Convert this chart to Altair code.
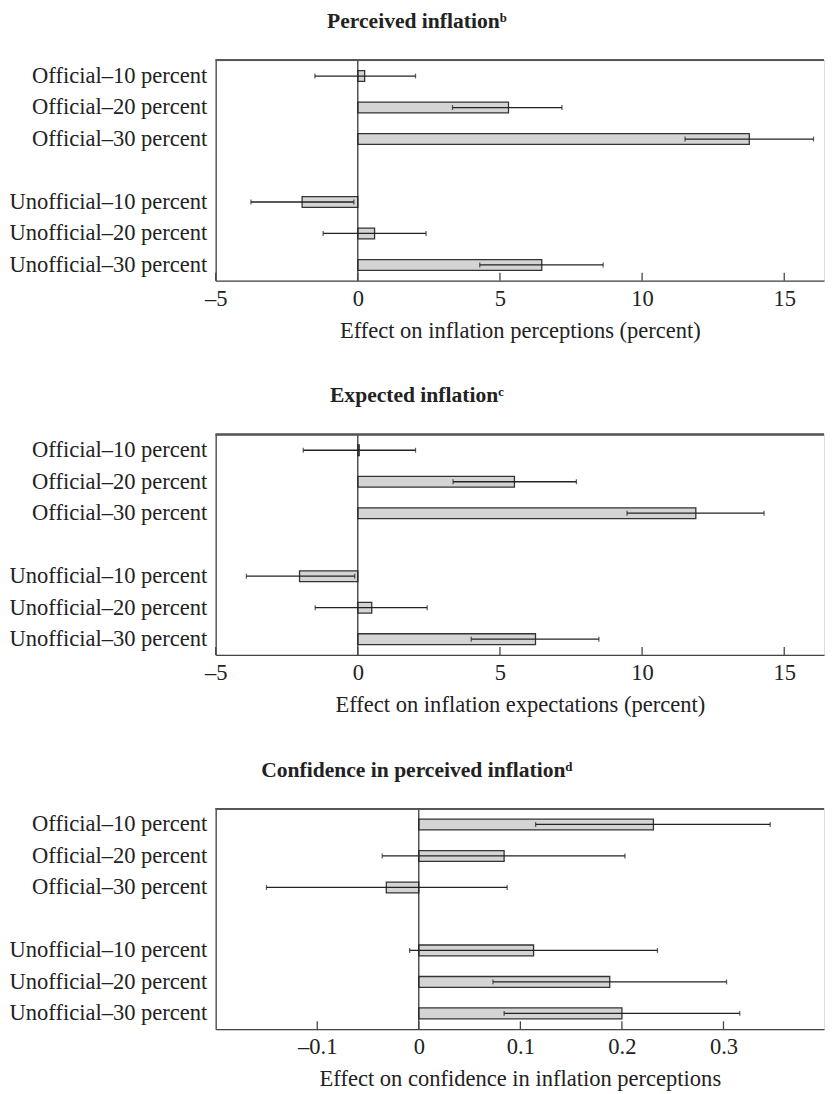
import altair as alt
import pandas as pd

categories = [
    "Official–10 percent", "Official–20 percent", "Official–30 percent",
    "Unofficial–10 percent", "Unofficial–20 percent", "Unofficial–30 percent",
]
gap_label = " "

perceived = [0.24, 5.30, 13.77, -1.96, 0.59, 6.47]
perceived_lo = [-1.51, 3.33, 11.51, -3.76, -1.22, 4.29]
perceived_hi = [2.03, 7.18, 16.03, -0.14, 2.40, 8.63]

expected = [0.05, 5.51, 11.89, -2.05, 0.49, 6.25]
expected_lo = [-1.92, 3.35, 9.47, -3.92, -1.50, 3.99]
expected_hi = [2.03, 7.69, 14.29, -0.11, 2.44, 8.48]

confidence = [0.231, 0.084, -0.032, 0.113, 0.188, 0.200]
confidence_lo = [0.115, -0.036, -0.150, -0.009, 0.073, 0.084]
confidence_hi = [0.346, 0.203, 0.087, 0.235, 0.303, 0.316]

titles = ["Perceived inflationᵇ", "Expected inflationᶜ", "Confidence in perceived inflationᵈ"]
x_titles = [
    "Effect on inflation perceptions (percent)",
    "Effect on inflation expectations (percent)",
    "Effect on confidence in inflation perceptions",
]
ticks_pct = [-5, 0, 5, 10, 15]
ticks_conf = [-0.1, 0, 0.1, 0.2, 0.3]
domain_pct = [-5, 16.4]
domain_conf = [-0.2, 0.399]

W = 621
H = 225
FONT = "Liberation Serif"
order = categories[:3] + [gap_label] + categories[3:]


def panel(title, vals, lo, hi, domain, ticks, xtitle, fmt):
    df = pd.DataFrame({"cat": categories, "val": vals, "lo": lo, "hi": hi})
    tdf = pd.DataFrame({"t": ticks})
    xscale = alt.Scale(domain=domain, nice=False, zero=False)
    yscale = alt.Scale(domain=order, paddingInner=0.655, paddingOuter=0.3275)
    xaxis = alt.Axis(
        values=ticks, ticks=False, grid=False, domain=True, format=fmt,
        labelFlush=False, labelOverlap=False,
        domainColor="#444", domainWidth=1.3,
        labelExpr="replace(replace(datum.label, '\u2212', '–'), '-', '–')",
        labelFont=FONT, labelFontSize=23, labelColor="#222", labelPadding=7,
        title=xtitle, titleFont=FONT, titleFontSize=23, titleFontWeight="normal",
        titleColor="#222", titlePadding=10,
    )
    yaxis = alt.Axis(
        title=None, ticks=False, grid=False, domain=True,
        domainColor="#444", domainWidth=1.3, labelLimit=400,
        labelFont=FONT, labelFontSize=23, labelColor="#222", labelPadding=9,
        minExtent=204, maxExtent=204,
    )
    base = alt.Chart(df)
    bars = base.mark_bar(fill="#d4d4d4", stroke="#333", strokeWidth=1.3).encode(
        x=alt.X("val:Q", scale=xscale, axis=xaxis),
        x2=alt.datum(0),
        y=alt.Y("cat:N", scale=yscale, axis=yaxis, sort=order),
    )
    err = base.mark_rule(color="#222", strokeWidth=1.3).encode(
        x="lo:Q", x2="hi:Q", y=alt.Y("cat:N", sort=order)
    )
    cap_lo = base.mark_tick(color="#222", size=5, thickness=1.3).encode(
        x="lo:Q", y=alt.Y("cat:N", sort=order)
    )
    cap_hi = base.mark_tick(color="#222", size=5, thickness=1.3).encode(
        x="hi:Q", y=alt.Y("cat:N", sort=order)
    )
    zero = alt.Chart(pd.DataFrame({"z": [0]})).mark_rule(color="#222", strokeWidth=1.2).encode(
        x="z:Q"
    )
    tick_marks = alt.Chart(tdf).mark_rule(color="#444", strokeWidth=1.3).encode(
        x="t:Q", y=alt.value(H), y2=alt.value(H - 8)
    )
    top = alt.Chart(tdf).mark_rule(color="#555", strokeWidth=1.6).encode(
        x=alt.value(0), x2=alt.value(W), y=alt.value(0)
    )
    return alt.layer(bars, zero, err, cap_lo, cap_hi, tick_marks, top).properties(
        width=W, height=H,
        title=alt.TitleParams(
            title, font=FONT, fontSize=22, fontWeight="bold", color="#222",
            anchor="middle", frame="bounds", offset=27,
        ),
    )


p1 = panel(titles[0], perceived, perceived_lo, perceived_hi, domain_pct, ticks_pct, x_titles[0], "~g")
p2 = panel(titles[1], expected, expected_lo, expected_hi, domain_pct, ticks_pct, x_titles[1], "~g")
p3 = panel(titles[2], confidence, confidence_lo, confidence_hi, domain_conf, ticks_conf, x_titles[2], ".1~f")

chart = alt.vconcat(p1, p2, p3, spacing=41).properties(
    padding={"left": 0, "top": -10, "right": 0, "bottom": 0}
).configure_view(stroke=None).configure(background="white")

chart.save("out.html", embed_options={"renderer": "svg", "actions": False})
